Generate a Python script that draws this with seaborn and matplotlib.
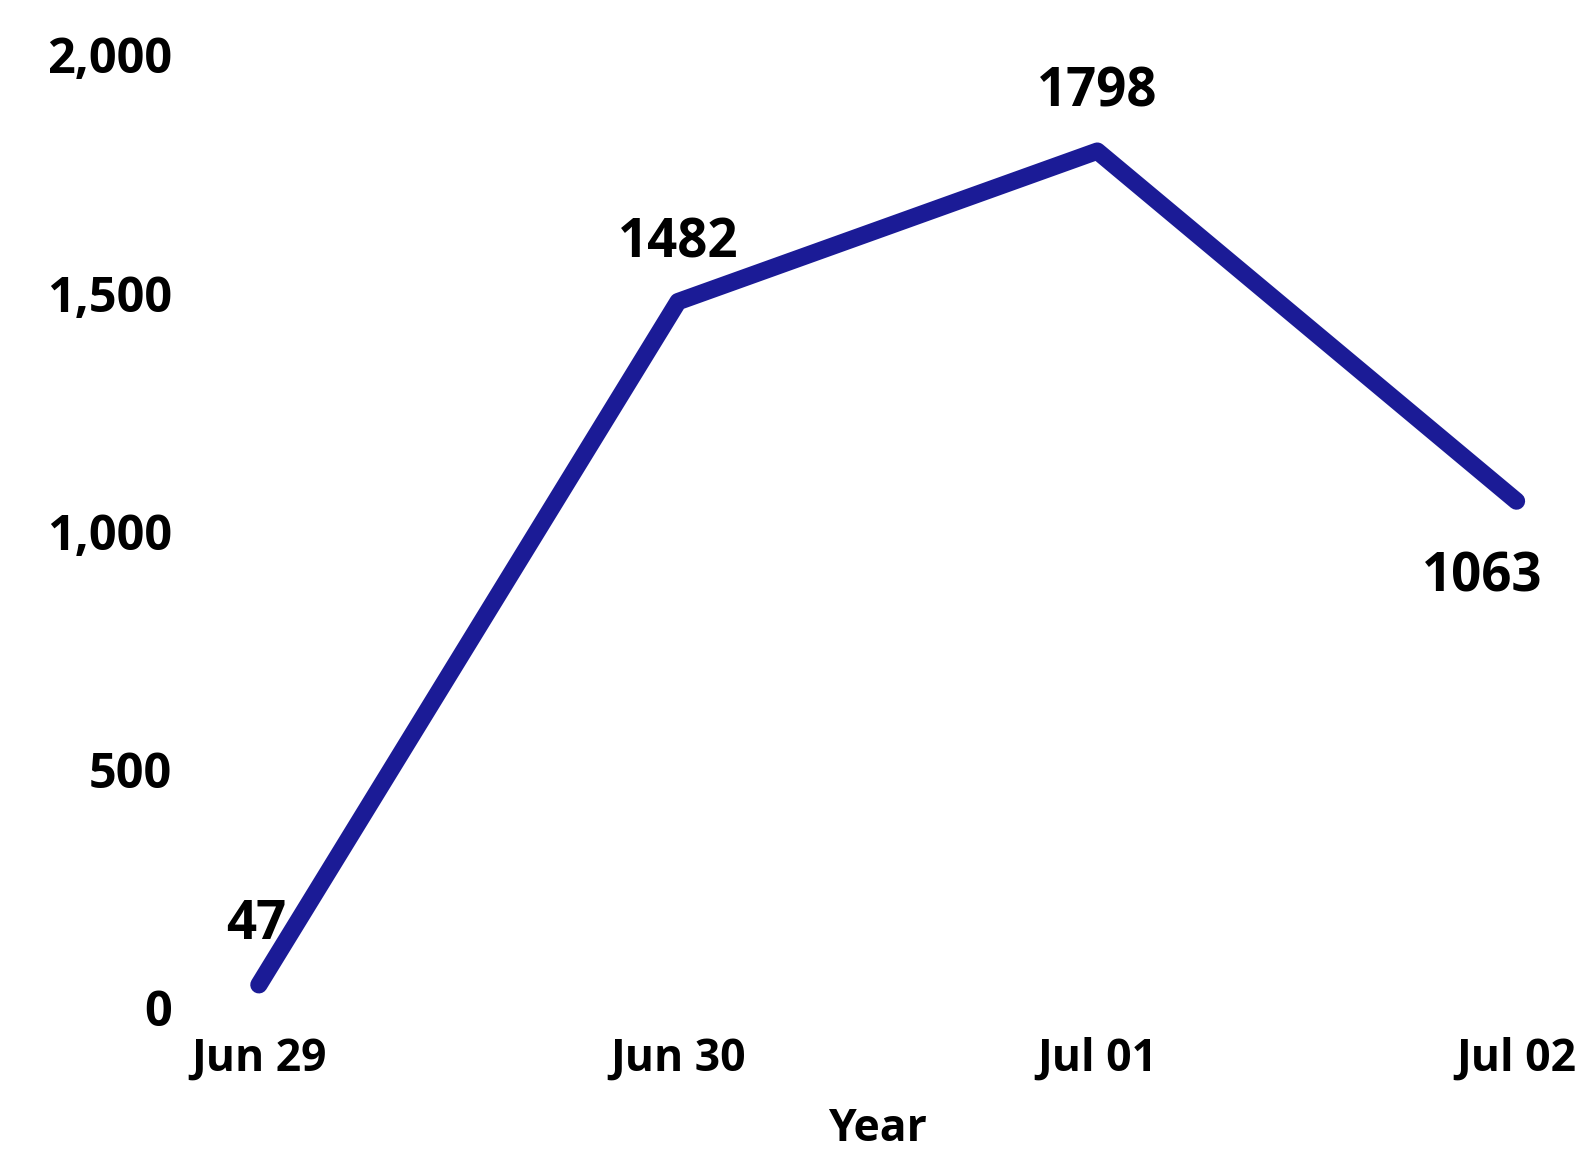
import matplotlib
matplotlib.use("Agg")
import matplotlib.pyplot as plt
from matplotlib.ticker import FuncFormatter
import seaborn as sns
import pandas as pd

dates = ["Jun 29", "Jun 30", "Jul 01", "Jul 02"]
counts = [47, 1482, 1798, 1063]
y_ticks = [0, 500, 1000, 1500, 2000]
x_label = "Year"

sns.set_style("white")
plt.rcParams["font.family"] = ["Open Sans", "DejaVu Sans"]

df = pd.DataFrame({"date": dates, "count": counts})

fig = plt.figure(figsize=(15.81, 11.58), dpi=100)
ax = fig.add_axes([0.124, 0.1097, 0.867, 0.8675])

line_color = "#1b1b96"
sns.lineplot(data=df, x="date", y="count", sort=False, ax=ax,
             color=line_color, linewidth=12.5)
for ln in ax.get_lines():
    ln.set_solid_capstyle("round")
    ln.set_solid_joinstyle("round")

ax.set_xlim(-0.15, 3.12)
ax.set_ylim(-50, 2060)
ax.set_yticks(y_ticks)
ax.yaxis.set_major_formatter(FuncFormatter(lambda v, p: f"{v:,.0f}"))

for s in ax.spines.values():
    s.set_visible(False)
ax.grid(False)

ax.tick_params(axis="x", length=0, pad=4, labelsize=32, labelcolor="black")
ax.tick_params(axis="y", length=0, pad=17, labelsize=35, labelcolor="black")
for lab in ax.get_xticklabels() + ax.get_yticklabels():
    lab.set_fontweight("bold")

ax.set_ylabel("")
ax.set_xlabel(x_label, fontsize=32, fontweight="bold", color="black")
ax.xaxis.set_label_coords(0.4975, -0.076)

offsets = [(-2, 43), (0, 42), (0, 42), (-25, -55)]
for i, (v, off) in enumerate(zip(counts, offsets)):
    ax.annotate(str(v), xy=(i, v), xytext=off, textcoords="offset points",
                ha="center", va="center", fontsize=38, fontweight="bold",
                color="black")

fig.savefig("out.png", dpi=100, facecolor="white")
